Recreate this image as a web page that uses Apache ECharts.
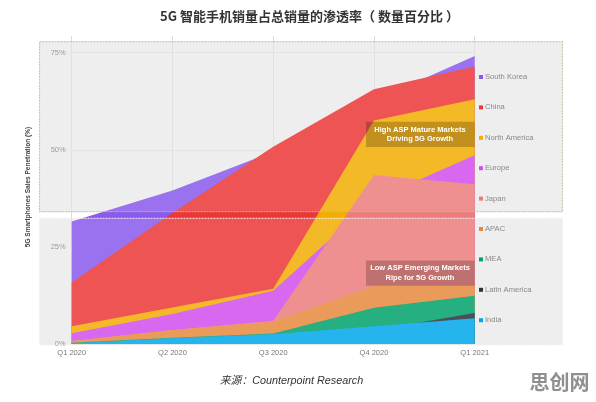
<!DOCTYPE html>
<html style="height: 100%">
<head>
	<meta charset="utf-8">
</head>
<body style="height: 100%; margin: 0; background: #fff">
<div id="container" style="height: 100%"></div>
<script type="text/javascript" src="https://cdn.jsdelivr.net/npm/echarts@6/dist/echarts.min.js"></script>
<script type="text/javascript">
    var quarters = ['Q1 2020', 'Q2 2020', 'Q3 2020', 'Q4 2020', 'Q1 2021'];

    // the picture paints every region over the previous one, values are the visible top edge
    var southKorea = [31.5, 39.5, 49.5, 62.6, 74.1];
    var china = [15.8, 33.7, 50.8, 65.6, 71.4];
    var northAmerica = [4.6, 9.4, 14.2, 57.5, 63];
    var europe = [2.75, 7.7, 13.7, 37.1, 48.6];
    var japan = [0.8, 3.6, 6, 43.5, 41.1];
    var apac = [0.8, 3.6, 5.7, 14.9, 15.2];
    var mea = [0.3, 1.6, 2.7, 9.3, 12.4];
    var latinAmerica = [0.1, 1.2, 2.2, 3.5, 8];
    var india = [0.2, 1.5, 2.5, 4.6, 6.6];

    var names = ['South Korea', 'China', 'North America', 'Europe', 'Japan', 'APAC', 'MEA', 'Latin America', 'India'];
    var values = [southKorea, china, northAmerica, europe, japan, apac, mea, latinAmerica, india];
    var colors = ['#895aed', '#ed3737', '#f3ad00', '#d04eed', '#ed7d7d', '#e7893d', '#00a16c', '#2b313d', '#00a7ed'];

    var series = [];
    for (var i = 0; i < names.length; i++) {
        series.push({
            name: names[i],
            type: 'line',
            data: values[i],
            symbol: 'none',
            lineStyle: { width: 0 },
            itemStyle: { color: colors[i] },
            areaStyle: { color: colors[i], opacity: 1 },
            z: 2 + i * 0.01
        });
    }

    // grey panel under the areas, a thin white veil and the border over them
    function panel(y, h) {
        return { type: 'rect', z: -1, shape: { x: 39.5, y: y, width: 523, height: h },
            style: { fill: '#ececec' } };
    }
    function veil(y, h, border) {
        return { type: 'rect', z: 5, silent: true, shape: { x: 39.5, y: y, width: 523, height: h },
            style: { fill: 'rgba(255,255,255,0.15)', stroke: border, lineWidth: 1.2, lineDash: [2, 1] } };
    }
    function noteText(y, text) {
        return { type: 'text', z: 31, x: 420, y: y, style: { text: text, fill: '#fff', align: 'center', verticalAlign: 'middle',
            font: 'bold 7.5px "Liberation Sans"', lineHeight: 9.5 } };
    }
    function noteBox(y) {
        return { type: 'rect', z: 30, shape: { x: 366, y: y, width: 108.7, height: 25.4 },
            style: { fill: 'rgba(30,15,0,0.23)' } };
    }

    var dom = document.getElementById('container');
    var myChart = echarts.init(dom, null, { renderer: 'canvas' });
    var option = {
        animation: false,
        backgroundColor: '#fff',
        textStyle: { fontFamily: '"Liberation Sans", "Noto Sans CJK SC"' },
        title: [{
            text: '5G 智能手机销量占总销量的渗透率（ 数量百分比 ）',
            left: 304.5, top: 5, textAlign: 'center',
            textStyle: { fontSize: 13, fontWeight: 'bold', color: '#333', fontFamily: '"Noto Sans CJK SC"' }
        }, {
            text: '来源：Counterpoint Research',
            left: 286.5, top: 371, textAlign: 'center',
            textStyle: { fontSize: 10.8, fontWeight: 'normal', fontStyle: 'italic', color: '#333' }
        }, {
            text: '思创网',
            left: 554.5, top: 367, textAlign: 'center',
            textStyle: { fontSize: 20, fontWeight: 'bold', color: '#8f8f8f', fontFamily: '"Noto Sans CJK SC"' }
        }],
        legend: {
            data: names,
            orient: 'vertical',
            left: 474, top: 67,
            z: 20,
            icon: 'rect',
            itemWidth: 4, itemHeight: 4,
            itemGap: 20.4,
            itemStyle: { borderWidth: 0 },
            selectedMode: false,
            textStyle: { fontSize: 7.6, color: '#888', padding: [0, 0, 0, -3], height: 10, lineHeight: 10 }
        },
        grid: { left: 71.7, right: 121.3, top: 36, bottom: 58 },
        xAxis: {
            type: 'category',
            data: quarters,
            boundaryGap: false,
            axisLine: { show: false },
            axisTick: { show: false },
            axisLabel: { fontSize: 7.5, color: '#777', margin: 5, hideOverlap: false },
            splitLine: { show: true, lineStyle: { color: '#dcdcdc', width: 1 } }
        },
        yAxis: {
            type: 'value',
            min: 0, max: 79.28, interval: 25,
            name: '5G Smartphones Sales Penetration (%)',
            nameLocation: 'middle',
            nameRotate: 90,
            nameGap: 40,
            nameTextStyle: { fontSize: 6.5, fontWeight: 'bold', color: '#444', padding: [0, 0, 0, 6] },
            axisLine: { show: false },
            axisTick: { show: false },
            axisLabel: { fontSize: 7.5, color: '#8a8a8a', margin: 6, showMaxLabel: false, formatter: '{value}%' },
            splitLine: { show: true, showMaxLine: false, lineStyle: { color: '#dfdfdf', width: 1 } }
        },
        graphic: { elements: [
            panel(41.7, 170),
            panel(218.3, 126.7),
            veil(41.7, 170, 'rgba(190,190,140,0.8)'),
            veil(218.3, 126.7, 'rgba(245,240,240,0.8)'),
            noteBox(121.7),
            noteText(134.5, 'High ASP Mature Markets\nDriving 5G Growth'),
            noteBox(260.4),
            noteText(273, 'Low ASP Emerging Markets\nRipe for 5G Growth')
        ] },
        series: series
    };
    myChart.setOption(option);
</script>
</body>
</html>
